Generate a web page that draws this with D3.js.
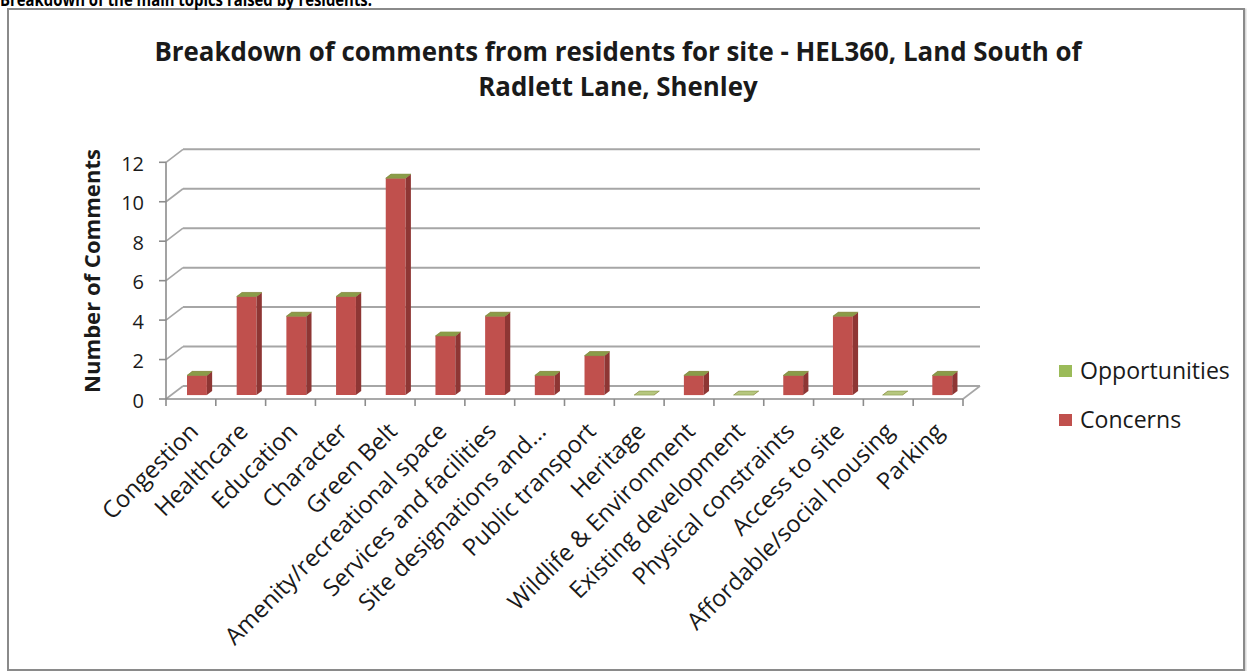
<!DOCTYPE html>
<html><head><meta charset="utf-8">
<script src="https://cdn.jsdelivr.net/npm/d3@7"></script>
<style>body{margin:0;background:#fff} svg{display:block}</style>
</head><body>
<svg id="c" width="1253" height="671"></svg>
<script>
// ---------- data ----------
const categories = ["Congestion","Healthcare","Education","Character","Green Belt","Amenity/recreational space","Services and facilities","Site designations and...","Public transport","Heritage","Wildlife & Environment","Existing development","Physical constraints","Access to site","Affordable/social housing","Parking"];
const concerns      = [1,5,4,5,11,3,4,1,2,0,1,0,1,4,0,1];
const opportunities = [0,0,0,0,0,0,0,0,0,0,0,0,0,0,0,0];
const seriesNames = ["Concerns","Opportunities"];
const legendOrder = ["Opportunities","Concerns"];
const yTicks = [0,2,4,6,8,10,12];
const titleLines = ["Breakdown of comments from residents for site - HEL360, Land South of","Radlett Lane, Shenley"];
const pageHeading = "Breakdown of the main topics raised by residents.";
const yTitle = "Number of Comments";

// ---------- setup ----------
const FONT = "'Open Sans', 'DejaVu Sans', sans-serif";
const svg = d3.select("#c");
const colors = {
  Concerns:{front:"#c0504d", side:"#8e3634", top:"#a8443f"},
  Opportunities:{front:"#9bbb59", side:"#71883f", top:"#8a9c48"}
};

function fitSize(txt, weight, target, base){
  const t = svg.append("text").attr("font-family",FONT).attr("font-weight",weight)
    .attr("font-size",base).text(txt);
  const w = t.node().getComputedTextLength(); t.remove();
  return base*target/w;
}

// frame
svg.append("rect").attr("x",9).attr("y",10).attr("width",1236).attr("height",662)
  .attr("fill","none").attr("stroke","#d8d8d8").attr("stroke-width",3);
svg.append("rect").attr("x",8).attr("y",9).attr("width",1236).attr("height",661)
  .attr("fill","#fff").attr("stroke","#8a8a8a").attr("stroke-width",2);

// page heading (cropped at top, as in the source)
svg.append("text").attr("x",0).attr("y",6).attr("font-family",FONT).attr("font-weight",700)
  .attr("font-size",17).attr("textLength",372).attr("lengthAdjust","spacingAndGlyphs")
  .attr("fill","#000").text(pageHeading);

// title
const ts = fitSize(titleLines[0],700,928,22);
svg.selectAll("text.title").data(titleLines).join("text").attr("class","title")
  .attr("x",618).attr("y",(d,i)=>61+i*35).attr("text-anchor","middle")
  .attr("font-family",FONT).attr("font-weight",700).attr("font-size",ts).attr("fill","#1a1a1a").text(d=>d);

// ---------- 3D geometry ----------
const x0 = 166, x1 = 963, DX = 17, DY = -13;
const y = d3.scaleLinear().domain([0,12]).range([399,162.3]);
const xb = d3.scaleBand().domain(categories).range([x0,x1]).paddingInner(0.6).paddingOuter(0.32);
const step = (x1-x0)/categories.length;
const F1 = 0.3, F2 = 0.61;

const g = svg.append("g");
g.selectAll("line.grid").data(yTicks).join("line").attr("class","grid")
  .attr("x1",x0+DX).attr("x2",x1+DX).attr("y1",d=>y(d)+DY).attr("y2",d=>y(d)+DY)
  .attr("stroke","#a6a6a6").attr("stroke-width",2);
g.selectAll("line.diag").data(yTicks).join("line").attr("class","diag")
  .attr("x1",x0).attr("x2",x0+DX).attr("y1",d=>y(d)).attr("y2",d=>y(d)+DY)
  .attr("stroke","#a6a6a6").attr("stroke-width",1.6);
g.append("line").attr("x1",x1).attr("y1",y(0)).attr("x2",x1+DX).attr("y2",y(0)+DY)
  .attr("stroke","#a6a6a6").attr("stroke-width",1.6);

// bars (stacked)
const rows = categories.map((c,i)=>({cat:c, Concerns:concerns[i], Opportunities:opportunities[i]}));
const stack = d3.stack().keys(seriesNames)(rows);
const poly = pts => pts.map(p=>p.join(",")).join(" ");
stack.forEach(layer=>{
  const col = colors[layer.key];
  layer.forEach(seg=>{
    const c = seg.data.cat, bx = xb(c), w = xb.bandwidth();
    const ya = y(seg[0]), yb = y(seg[1]);
    const gg = g.append("g");
    if (seg[1] > seg[0]) {
      gg.append("polygon").attr("points",poly([[bx+F1*DX,yb+F1*DY],[bx+w+F1*DX,yb+F1*DY],[bx+w+F1*DX,ya+F1*DY],[bx+F1*DX,ya+F1*DY]]))
        .attr("fill",col.front);
      gg.append("polygon").attr("points",poly([[bx+w+F1*DX,yb+F1*DY],[bx+w+F2*DX,yb+F2*DY],[bx+w+F2*DX,ya+F2*DY],[bx+w+F1*DX,ya+F1*DY]]))
        .attr("fill",col.side);
    }
    const topFill = (seg[1]===0 && layer.key==="Opportunities") ? "#b6c77f" : col.top;
    gg.append("polygon").attr("points",poly([[bx+F1*DX,yb+F1*DY],[bx+w+F1*DX,yb+F1*DY],[bx+w+F2*DX,yb+F2*DY],[bx+F2*DX,yb+F2*DY]]))
      .attr("fill",topFill).attr("stroke", layer.key==="Opportunities" ? "#849646" : "none").attr("stroke-width",0.6);
  });
});

// front axes
const axG = svg.append("g");
axG.append("line").attr("x1",x0).attr("x2",x1).attr("y1",y(0)).attr("y2",y(0)).attr("stroke","#8c8c8c").attr("stroke-width",1.6);
axG.append("line").attr("x1",x0).attr("x2",x0).attr("y1",y(0)).attr("y2",y(12)).attr("stroke","#8c8c8c").attr("stroke-width",1.6);
axG.selectAll("line.yt").data(yTicks).join("line").attr("class","yt")
  .attr("x1",x0-7).attr("x2",x0).attr("y1",d=>y(d)).attr("y2",d=>y(d)).attr("stroke","#8c8c8c").attr("stroke-width",1.6);
axG.selectAll("line.xt").data(d3.range(categories.length+1)).join("line").attr("class","xt")
  .attr("x1",i=>x0+i*step).attr("x2",i=>x0+i*step).attr("y1",y(0)).attr("y2",y(0)+7)
  .attr("stroke","#8c8c8c").attr("stroke-width",1.6);

// y tick labels
axG.selectAll("text.yl").data(yTicks).join("text").attr("class","yl")
  .attr("x",144).attr("y",d=>y(d)+1.5).attr("dy","0.35em").attr("text-anchor","end")
  .attr("font-family",FONT).attr("font-size",20).attr("fill","#1a1a1a").text(d=>d);

// y title
const yts = fitSize(yTitle,700,244,20);
svg.append("text").attr("transform","translate(100,271) rotate(-90)").attr("text-anchor","middle")
  .attr("font-family",FONT).attr("font-weight",700).attr("font-size",yts).attr("fill","#1a1a1a").text(yTitle);

// x labels
const xls = fitSize("Amenity/recreational space",400,302,18);
axG.selectAll("text.xl").data(categories).join("text").attr("class","xl")
  .attr("transform",c=>`translate(${xb(c)+xb.bandwidth()/2+2},${y(0)+28}) rotate(-45)`)
  .attr("text-anchor","end").attr("dy","0.35em")
  .attr("font-family",FONT).attr("font-size",xls).attr("fill","#1a1a1a").text(c=>c);

// legend
const ls = fitSize("Opportunities",400,150,18);
const leg = svg.append("g").selectAll("g").data(legendOrder).join("g")
  .attr("transform",(d,i)=>`translate(1059,${371+i*49})`);
leg.append("rect").attr("x",0).attr("y",-6).attr("width",13).attr("height",12).attr("fill",d=>colors[d].front);
leg.append("text").attr("x",21).attr("y",0).attr("dy","0.35em").attr("font-family",FONT)
  .attr("font-size",ls).attr("fill","#1a1a1a").text(d=>d);
</script>
</body></html>
